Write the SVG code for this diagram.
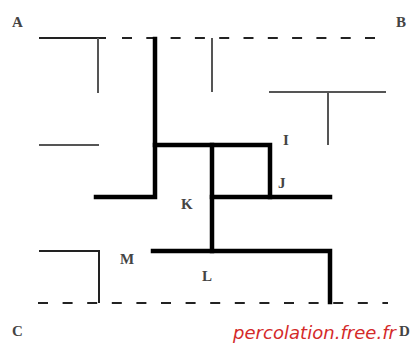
<svg xmlns="http://www.w3.org/2000/svg" width="414" height="347" viewBox="0 0 414 347">
<style>
.bg{fill:#ffffff}
.thin{stroke:#555;stroke-width:2;fill:none;stroke-linecap:butt}
.dark{stroke:#222;stroke-width:2;fill:none}
.dash{stroke:#222;stroke-width:2;fill:none}
.thick{stroke:#000;stroke-width:4.5;fill:none;stroke-linecap:square;stroke-linejoin:miter}
.lbl{font-family:"Liberation Serif",serif;font-weight:bold;font-size:15px;fill:#444}
.wm{font-family:"DejaVu Sans","Liberation Sans",sans-serif;font-style:italic;font-size:18px;fill:#d42a2a}
</style>
<rect class="bg" x="0" y="0" width="414" height="347"/>
<g id="connectors">
  <g id="boundaries">
    <line class="dark" x1="39" y1="38" x2="106" y2="38"/>
    <line class="dash" x1="122" y1="38" x2="377" y2="38" stroke-dasharray="10 14.3"/>
    <line class="dash" x1="38" y1="303" x2="388" y2="303" stroke-dasharray="10 14.6"/>
  </g>
  <g id="closed-bonds">
    <line class="thin" x1="98" y1="38" x2="98" y2="93"/>
    <line class="thin" x1="39" y1="145" x2="99" y2="145"/>
    <line class="thin" x1="212" y1="38" x2="212" y2="92"/>
    <line class="thin" x1="269" y1="92" x2="386" y2="92"/>
    <line class="thin" x1="328" y1="92" x2="328" y2="145"/>
    <polyline class="dark" points="39,251 99,251 99,303"/>
  </g>
  <g id="open-cluster">
    <polyline class="thick" points="155,39 155,197 96,197"/>
    <polyline class="thick" points="155,145 270,145 270,197"/>
    <line class="thick" x1="212" y1="145" x2="212" y2="251"/>
    <line class="thick" x1="212" y1="197" x2="330" y2="197"/>
    <polyline class="thick" points="153,251 330,251 330,302"/>
  </g>
</g>
<g id="node-A"><text class="lbl" x="12" y="27">A</text></g>
<g id="node-B"><text class="lbl" x="396" y="27">B</text></g>
<g id="node-C"><text class="lbl" x="12" y="336">C</text></g>
<g id="node-D"><text class="lbl" x="399" y="336">D</text></g>
<g id="node-I"><text class="lbl" x="283" y="145">I</text></g>
<g id="node-J"><text class="lbl" x="278" y="188">J</text></g>
<g id="node-K"><text class="lbl" x="181" y="209">K</text></g>
<g id="node-L"><text class="lbl" x="202" y="281">L</text></g>
<g id="node-M"><text class="lbl" x="120" y="264">M</text></g>
<g id="watermark"><text class="wm" x="233" y="339" textLength="163" lengthAdjust="spacing">percolation.free.fr</text></g>
</svg>
